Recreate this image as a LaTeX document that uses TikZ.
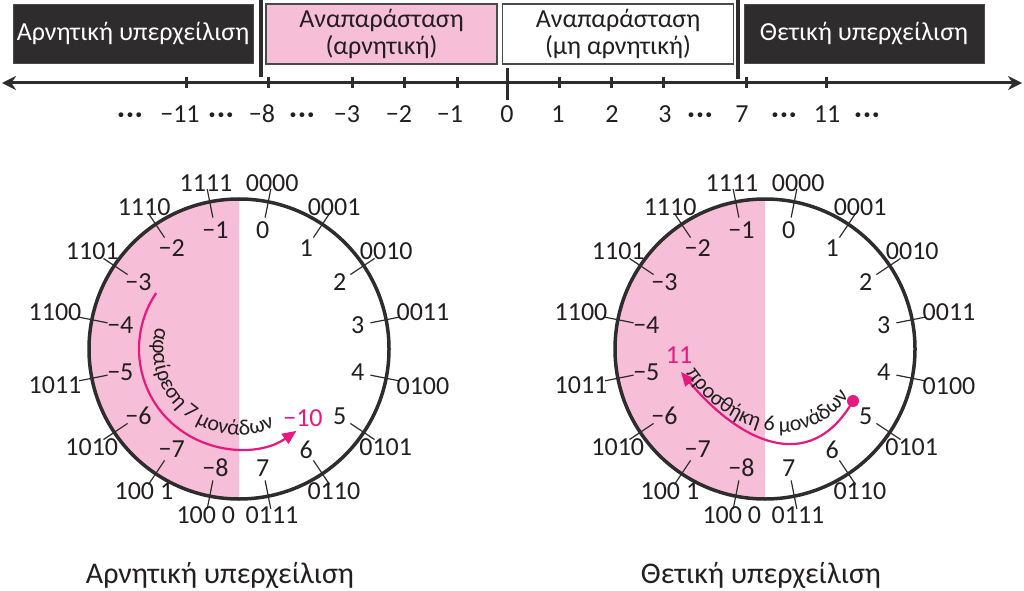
\documentclass[tikz,border=0pt]{standalone}
\usepackage{fontspec}
\setmainfont{Carlito}
\usetikzlibrary{arrows.meta,calc,decorations.text}
\definecolor{ovDark}{HTML}{2E2C2D}
\definecolor{ovText}{HTML}{231F20}
\definecolor{ovPink}{HTML}{F7BFD7}
\definecolor{ovMagenta}{HTML}{E5197E}
\definecolor{ovGrey}{HTML}{4A4A4A}
\newcommand{\ovnum}{\fontsize{26}{28}\selectfont}
\newcommand{\ovbox}{\fontsize{26}{27}\selectfont}
\newcommand{\ovcap}{\fontsize{30}{32}\selectfont}
\tikzset{
  >={Stealth[length=14pt,width=14pt]},
  darkbox/.style={draw=ovGrey, fill=ovDark, text=white, line width=1pt,
              minimum width=240pt, minimum height=59pt, font=\ovbox, inner sep=0pt},
  rangebox/.style={draw=ovGrey, line width=1.5pt, text=ovText, align=center,
              minimum width=231pt, minimum height=60pt, font=\ovbox, inner sep=0pt},
  sepline/.style={draw=ovDark, line width=3.5pt},
  axisline/.style={<->, draw=ovDark, line width=3pt},
  tickmark/.style={draw=ovDark, line width=3pt},
  ticklbl/.style={font=\ovnum, text=ovText, anchor=base, inner sep=0pt},
  wheel/.style={draw=ovDark, line width=3.5pt},
  spoke/.style={draw=ovDark, line width=1.2pt},
  declbl/.style={font=\ovnum, text=ovText, inner sep=0pt},
  binlbl/.style={font=\ovnum, text=ovText, inner sep=0.5pt},
  hotlbl/.style={font=\ovnum, text=ovMagenta, inner sep=0pt},
  move/.style={->, draw=ovMagenta, line width=2.2pt, >={Triangle[length=14pt,width=12pt]}},
  capline/.style={font=\ovcap, text=ovText, anchor=base},
}

\begin{document}
\begin{tikzpicture}[x=1pt,y=1pt]
  \useasboundingbox (0,0) rectangle (1024,590);
  % ranges above the number line
  \node[darkbox] (negOver) at (133,556) {Αρνητική υπερχείλιση};
  \node[rangebox,fill=ovPink] (negRep) at (381.5,556) {Αναπαράσταση\\(αρνητική)};
  \node[rangebox,fill=white] (posRep) at (618,556) {Αναπαράσταση\\(μη αρνητική)};
  \node[darkbox] (posOver) at (864,556) {Θετική υπερχείλιση};
  \draw[sepline] (261,590) -- (261,513);
  \draw[sepline] (738,590) -- (738,511);

  % number line
  \coordinate (axL) at (2,507);
  \coordinate (axR) at (1022,507);
  \draw[axisline] (axL) -- (axR);
  \foreach \x in {186,268,352,404,457,559,611,663,746,826}
    \draw[tickmark] (\x,501.5) -- (\x,512.5);
  \draw[tickmark] (507,490) -- (507,522);
  \foreach \x/\t in {180/−11,262/−8,347/−3,399/−2,450/−1,507/0,558/1,612/2,665/3,742/7,827/11}
    \node[ticklbl] (t\x) at (\x,467) {\t};
  \foreach \x in {130,221,302,700,784,867}
    \node[ticklbl] (dots\x) at (\x,467) {\bfseries ·\hspace{2pt}·\hspace{2pt}·};

  % the two wheels
  \foreach \cx/\w in {239/L,765/R}{
    \coordinate (c\w) at (\cx,241);
    \fill[ovPink] ($(c\w)+(0,150)$) arc[start angle=90,end angle=270,radius=150] -- cycle;
    \draw[wheel] (c\w) circle[radius=150];
    \foreach \k/\d/\b in {0/0/0000,1/1/0001,2/2/0010,3/3/0011,4/4/0100,5/5/0101,
        6/6/0110,7/7/0111,8/−8/{100 0},9/−7/{100 1},10/−6/1010,11/−5/1011,
        12/−4/1100,13/−3/1101,14/−2/1110,15/−1/1111}{
      \pgfmathsetmacro\ang{78.75-22.5*\k}
      \pgfmathsetmacro\anc{mod(\ang+540,360)}
      \coordinate (si\w\k) at ($(c\w)+(\ang:134)$);
      \coordinate (so\w\k) at ($(c\w)+(\ang:163)$);
      \draw[spoke] (si\w\k) -- (so\w\k);
      \node[declbl] (d\w\k) at ($(c\w)+(\ang:121)$) {\d};
      \node[binlbl,anchor=\anc] (b\w\k) at ($(c\w)+(\ang:160)$) {\b};
    }
  }

  % left wheel: subtraction
  \coordinate (subA) at ($(cL)+(146:100)$);
  \coordinate (subB) at ($(cL)+(305:100)$);
  \draw[move] (subA) arc[start angle=146,end angle=305,radius=100];
  \path[decorate,decoration={text along path,text align=center,
      text={|\fontsize{22}{22}\selectfont\color{ovText}|αφαίρεση 7 μονάδων}}]
    ($(cL)+(150:86)$) arc[start angle=150,end angle=310,radius=86];
  \node[hotlbl] (minTen) at (303,172) {−10};

  % right wheel: addition
  \coordinate (addA) at (853,189);
  \coordinate (addB) at (681,218);
  \coordinate (txtA) at (686,216);
  \coordinate (txtB) at (849,194);
  \fill[ovMagenta] (addA) circle[radius=6];
  \draw[move] (addA) to[out=240,in=-50,looseness=1.3] (addB);
  \path[decorate,decoration={text along path,text align=center,
      text={|\fontsize{22}{22}\selectfont\color{ovText}|προσθήκη 6 μονάδων}}]
    (txtA) to[out=-55,in=235,looseness=1.15] (txtB);
  \node[hotlbl] (plusEleven) at (679,235) {11};

  % captions
  \node[capline] (capL) at (220,7) {Αρνητική υπερχείλιση};
  \node[capline] (capR) at (761,7) {Θετική υπερχείλιση};
\end{tikzpicture}
\end{document}
